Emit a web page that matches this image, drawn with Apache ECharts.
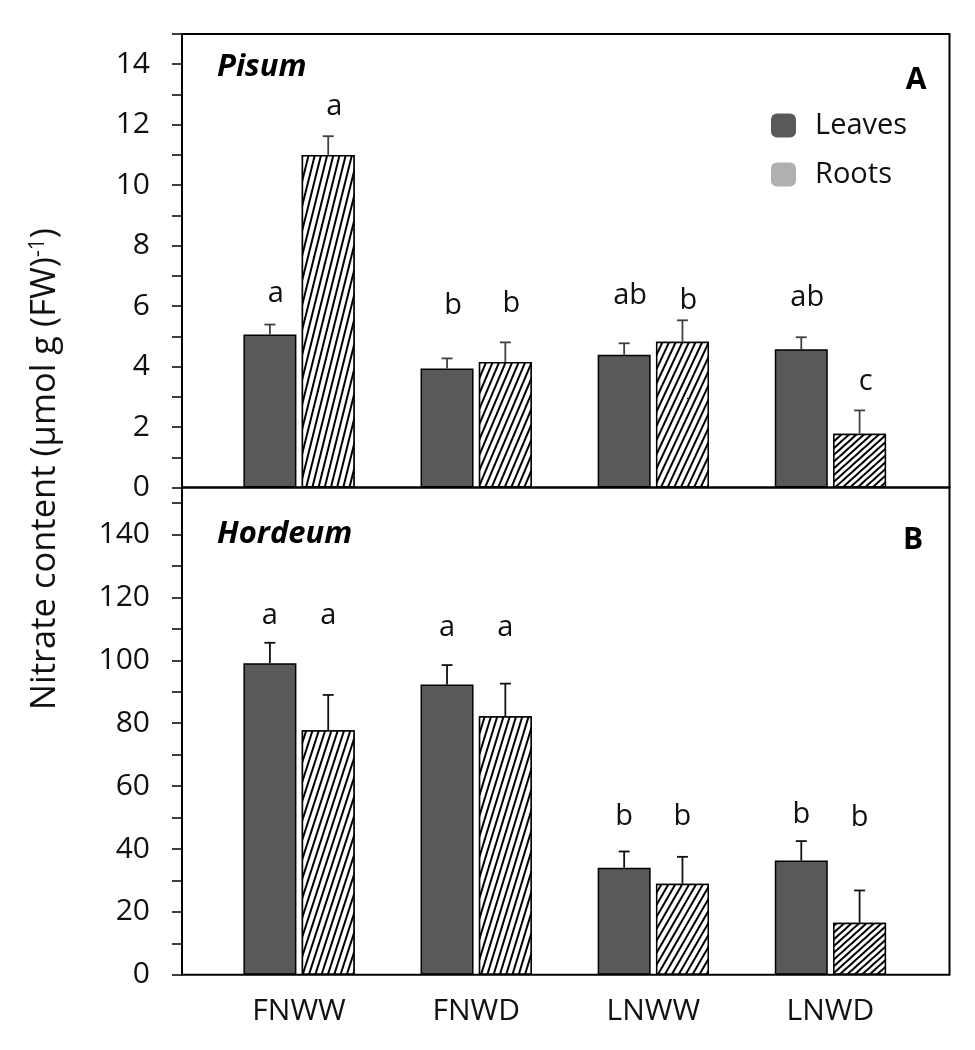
<!DOCTYPE html>
<html>
<head>
<meta charset="utf-8">
<script src="https://cdn.jsdelivr.net/npm/echarts@6/dist/echarts.min.js"></script>
<style>
html,body{margin:0;padding:0;background:#fff;}
#chart{width:975px;height:1050px;}
</style>
</head>
<body>
<div id="chart"></div>
<script>
// ---------- data ----------
const categories = ['FNWW', 'FNWD', 'LNWW', 'LNWD'];

const leavesA    = [5.06, 3.94, 4.39, 4.57];
const leavesAErr = [0.33, 0.33, 0.38, 0.40];
const rootsA     = [11.0, 4.15, 4.82, 1.78];
const rootsAErr  = [0.62, 0.65, 0.71, 0.77];
const lettersLeavesA = ['a', 'b', 'ab', 'ab'];
const lettersRootsA  = ['a', 'b', 'b', 'c'];
const letterYLeavesA = [6.41, 6.02, 6.35, 6.28];
const letterYRootsA  = [12.59, 6.08, 6.18, 3.49];

const leavesB    = [99.1, 92.3, 34.0, 36.3];
const leavesBErr = [6.5, 6.2, 5.2, 6.2];
const rootsB     = [77.8, 82.2, 28.9, 16.5];
const rootsBErr  = [11.2, 10.4, 8.6, 10.3];
const lettersLeavesB = ['a', 'a', 'b', 'b'];
const lettersRootsB  = ['a', 'a', 'b', 'b'];
const letterYLeavesB = [114.1, 110.5, 50.2, 51.0];
const letterYRootsB  = [114.1, 110.5, 50.2, 49.9];

const tickLabelsA = [0, 2, 4, 6, 8, 10, 12, 14];
const tickLabelsB = [0, 20, 40, 60, 80, 100, 120, 140];

// ---------- style ----------
const FONT = '"Open Sans", "Noto Sans", sans-serif';
const hatchAnglesA = [76, 67, 65, 42];
const hatchAnglesB = [72, 73, 60, 42];
const BAR_W = 53;
const GAP_RATIO = 0.1;
const groupHalf = (2 * BAR_W + BAR_W * GAP_RATIO) / 2;
const offLeaves = -groupHalf + BAR_W / 2;
const offRoots = groupHalf - BAR_W / 2;

function hatch(angleDeg) {
  return {
    symbol: 'rect',
    symbolSize: 1,
    color: '#000',
    backgroundColor: '#fff',
    dashArrayX: [1, 0],
    dashArrayY: angleDeg > 55 ? [2, 4] : [2, 3],
    rotation: -angleDeg * Math.PI / 180
  };
}

function rootsData(vals, angles) {
  return vals.map((v, i) => ({ value: v, itemStyle: { decal: hatch(angles[i]) } }));
}

function errRender(offset, letters, color, letterDx) {
  return function (params, api) {
    const i = api.value(0), v = api.value(1), e = api.value(2), ly = api.value(3);
    const p0 = api.coord([i, v]);
    const p1 = api.coord([i, v + e]);
    const pl = api.coord([i, ly]);
    const x = p0[0] + offset;
    return {
      type: 'group',
      children: [
        { type: 'line', shape: { x1: x, y1: p0[1], x2: x, y2: p1[1] }, style: { stroke: color, lineWidth: 1.8 } },
        { type: 'line', shape: { x1: x - 5.5, y1: p1[1], x2: x + 5.5, y2: p1[1] }, style: { stroke: color, lineWidth: 1.8 } },
        { type: 'text', x: x + letterDx, y: pl[1],
          style: { text: letters[params.dataIndex], fontSize: 29, fontFamily: FONT, fill: '#111', align: 'center', verticalAlign: 'middle' } }
      ]
    };
  };
}

function errData(vals, errs, ly) {
  return categories.map((c, i) => [i, vals[i], errs[i], ly[i]]);
}

const frameLeft = 182, frameRight = 25.5;
const barLeft = 210.5, barRight = 56;
const topA = 34, midY = 487.5, bottomB = 974.7;

const tickStyle = { show: true, inside: false, length: 10, lineStyle: { color: '#000', width: 1.5 } };
const labelStyle = { fontSize: 30, fontFamily: FONT, color: '#111', margin: 32 };

const chart = echarts.init(document.getElementById('chart'), null, { renderer: 'canvas' });

const option = {
  backgroundColor: '#fff',
  animation: false,
  legend: {
    orient: 'vertical',
    left: 771, top: 111,
    itemWidth: 25, itemHeight: 24, itemGap: 20,
    padding: 0,
    selectedMode: false,
    textStyle: { fontSize: 29, fontFamily: FONT, color: '#111', lineHeight: 24, padding: [0, 0, 0, 14] },
    data: [
      { name: 'Leaves', itemStyle: { color: '#595959', borderWidth: 0 } },
      { name: 'Roots', itemStyle: { color: '#b0b0b0', borderWidth: 0, decal: 'none' } }
    ]
  },
  grid: [
    { left: frameLeft, right: frameRight, top: topA, height: midY - topA, show: true, borderColor: '#000', borderWidth: 2, backgroundColor: 'transparent', outerBoundsMode: 'none' },
    { left: barLeft, right: barRight, top: topA, height: midY - topA, outerBoundsMode: 'none' },
    { left: frameLeft, right: frameRight, top: midY, height: bottomB - midY, show: true, borderColor: '#000', borderWidth: 2, backgroundColor: 'transparent', outerBoundsMode: 'none' },
    { left: barLeft, right: barRight, top: midY, height: bottomB - midY, outerBoundsMode: 'none' }
  ],
  xAxis: [
    { gridIndex: 0, type: 'value', min: 0, max: 1, show: false },
    { gridIndex: 1, type: 'category', data: categories, show: false },
    { gridIndex: 2, type: 'value', min: 0, max: 1, show: false },
    { gridIndex: 3, type: 'category', data: categories,
      axisLine: { show: false }, axisTick: { show: false }, splitLine: { show: false },
      axisLabel: { show: true, fontSize: 30, fontFamily: FONT, color: '#111', margin: 22 } }
  ],
  yAxis: [
    { gridIndex: 0, type: 'value', min: 0, max: 15, interval: 1,
      axisLine: { show: true, lineStyle: { color: '#000', width: 2 } },
      axisTick: tickStyle, splitLine: { show: false },
      axisLabel: Object.assign({}, labelStyle, { formatter: v => tickLabelsA.indexOf(v) >= 0 ? String(v) : '' }) },
    { gridIndex: 1, type: 'value', min: 0, max: 15, show: false, splitLine: { show: false } },
    { gridIndex: 2, type: 'value', min: 0, max: 155, interval: 10,
      axisLine: { show: true, lineStyle: { color: '#000', width: 2 } },
      axisTick: tickStyle, splitLine: { show: false },
      axisLabel: Object.assign({}, labelStyle, { formatter: v => tickLabelsB.indexOf(v) >= 0 ? String(v) : '' }) },
    { gridIndex: 3, type: 'value', min: 0, max: 155, show: false, splitLine: { show: false } }
  ],
  graphic: [
    { type: 'text', x: 45, y: 469, rotation: Math.PI / 2,
      style: { text: 'Nitrate content (µmol g (FW){sup|-1})', fontSize: 34.5, fontFamily: FONT, fill: '#111',
               align: 'center', verticalAlign: 'middle',
               rich: { sup: { fontSize: 21, fontFamily: FONT, fill: '#111', verticalAlign: 'top' } } } },
    { type: 'text', x: 217, y: 67, style: { text: 'Pisum', fontSize: 31, fontStyle: 'italic', fontWeight: 'bold', fontFamily: FONT, fill: '#000', align: 'left', verticalAlign: 'middle' } },
    { type: 'text', x: 916, y: 80, style: { text: 'A', fontSize: 30, fontWeight: 'bold', fontFamily: FONT, fill: '#000', align: 'center', verticalAlign: 'middle' } },
    { type: 'text', x: 217, y: 534, style: { text: 'Hordeum', fontSize: 31, fontStyle: 'italic', fontWeight: 'bold', fontFamily: FONT, fill: '#000', align: 'left', verticalAlign: 'middle' } },
    { type: 'text', x: 913, y: 540, style: { text: 'B', fontSize: 30, fontWeight: 'bold', fontFamily: FONT, fill: '#000', align: 'center', verticalAlign: 'middle' } }
  ],
  series: [
    { name: 'Leaves', type: 'bar', xAxisIndex: 1, yAxisIndex: 1, data: leavesA, barWidth: BAR_W, barGap: '10%',
      itemStyle: { color: '#595959', borderColor: '#000', borderWidth: 1.5 } },
    { name: 'Roots', type: 'bar', xAxisIndex: 1, yAxisIndex: 1, data: rootsData(rootsA, hatchAnglesA), barWidth: BAR_W, barGap: '10%',
      itemStyle: { color: '#fff', borderColor: '#000', borderWidth: 1.5 } },
    { name: 'Leaves', type: 'bar', xAxisIndex: 3, yAxisIndex: 3, data: leavesB, barWidth: BAR_W, barGap: '10%',
      itemStyle: { color: '#595959', borderColor: '#000', borderWidth: 1.5 } },
    { name: 'Roots', type: 'bar', xAxisIndex: 3, yAxisIndex: 3, data: rootsData(rootsB, hatchAnglesB), barWidth: BAR_W, barGap: '10%',
      itemStyle: { color: '#fff', borderColor: '#000', borderWidth: 1.5 } },
    { type: 'custom', xAxisIndex: 1, yAxisIndex: 1, clip: false, z: 5,
      renderItem: errRender(offLeaves, lettersLeavesA, '#404040', 6), data: errData(leavesA, leavesAErr, letterYLeavesA) },
    { type: 'custom', xAxisIndex: 1, yAxisIndex: 1, clip: false, z: 5,
      renderItem: errRender(offRoots, lettersRootsA, '#404040', 6), data: errData(rootsA, rootsAErr, letterYRootsA) },
    { type: 'custom', xAxisIndex: 3, yAxisIndex: 3, clip: false, z: 5,
      renderItem: errRender(offLeaves, lettersLeavesB, '#111', 0), data: errData(leavesB, leavesBErr, letterYLeavesB) },
    { type: 'custom', xAxisIndex: 3, yAxisIndex: 3, clip: false, z: 5,
      renderItem: errRender(offRoots, lettersRootsB, '#111', 0), data: errData(rootsB, rootsBErr, letterYRootsB) }
  ]
};
chart.setOption(option);
</script>
</body>
</html>
